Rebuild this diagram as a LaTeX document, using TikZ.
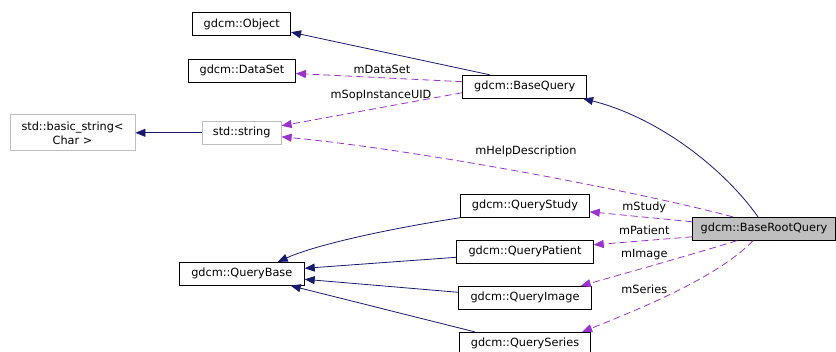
\documentclass[tikz,border=0pt]{standalone}
\usepackage{fontspec}
\setmainfont{DejaVu Sans}
\usetikzlibrary{arrows.meta}
\definecolor{navy}{HTML}{191970}
\definecolor{orchid}{HTML}{9A32CD}
\definecolor{extgray}{HTML}{BFBFBF}

\begin{document}
\begin{tikzpicture}[x=1pt,y=-1pt,
        every node/.append style={font=\fontsize{11.3}{14}\selectfont},
        cls/.style={draw=black,line width=0.8pt,minimum height=23pt,inner sep=0pt},
        ext/.style={cls,draw=extgray},
        inherit/.style={navy,line width=0.8pt,-{Triangle[length=10pt,width=8pt]}},
        member/.style={orchid,line width=0.8pt,dash pattern=on 7pt off 4pt,-{Triangle[length=10pt,width=8pt]}}]
        \useasboundingbox (0,0) rectangle (836,352);
        % classes
        \node[cls,minimum width=98pt] (obj) at (241.7,24.2) {gdcm::Object};
        \node[cls,minimum width=107pt] (ds) at (242,70.5) {gdcm::DataSet};
        \node[ext,minimum width=125pt,minimum height=36pt,align=center] (bs) at (72.5,132.8) {std::basic\_string<\\Char >};
        \node[ext,minimum width=79pt] (str) at (241.7,132.8) {std::string};
        \node[cls,minimum width=124pt] (bq) at (524.7,86.7) {gdcm::BaseQuery};
        \node[cls,minimum width=125pt] (qb) at (241.8,273.8) {gdcm::QueryBase};
        \node[cls,minimum width=128.6pt] (qst) at (525,205.8) {gdcm::QueryStudy};
        \node[cls,minimum width=136.6pt] (qp) at (525,251.8) {gdcm::QueryPatient};
        \node[cls,minimum width=132.6pt] (qi) at (525,297.8) {gdcm::QueryImage};
        \node[cls,minimum width=131.4pt] (qse) at (525,343.8) {gdcm::QuerySeries};
        \node[cls,fill=extgray,minimum width=142.6pt] (brq) at (764,228.8) {gdcm::BaseRootQuery};
        % inheritance
        \draw[inherit] ([xshift=-35pt]bq.north) -- ([yshift=-8pt]obj.east);
        \draw[inherit] (str.west) -- (bs.east);
        \draw[inherit] ([xshift=-6pt]brq.north) .. controls (725,170) and (660,118) .. ([xshift=-4pt]bq.south east);
        \draw[inherit] (qst.south west) .. controls (400,227) and (320,243) .. ([xshift=-27pt]qb.north east);
        \draw[inherit] ([yshift=-5.5pt]qp.west) -- ([yshift=5.5pt]qb.east);
        \draw[inherit] ([yshift=5.5pt]qi.west) -- ([yshift=-5.5pt]qb.east);
        \draw[inherit] ([xshift=16pt]qse.north west) -- ([xshift=-14pt]qb.south east);
        % members
        \draw[member] ([yshift=5pt]bq.west) -- ([yshift=-3pt]ds.east);
        \draw[member] ([yshift=-6pt]bq.west) -- ([yshift=7pt]str.east);
        \draw[member] ([xshift=-31pt]brq.north) .. controls (640,192) and (420,150) .. ([yshift=-4pt]str.east);
        \draw[member] ([yshift=7pt]brq.west) -- ([yshift=-6pt]qst.east);
        \draw[member] ([yshift=-8pt]brq.west) -- ([yshift=7pt]qp.east);
        \draw[member] ([xshift=-27pt]brq.south) .. controls (690,255) and (630,272) .. ([xshift=-11pt]qi.north east);
        \draw[member] ([xshift=-11pt]brq.south) .. controls (720,275) and (650,305) .. ([xshift=-9pt]qse.north east);
        % member names
        \node (lds) at (382,69) {mDataSet};
        \node (lsop) at (381,95) {mSopInstanceUID};
        \node (lhelp) at (526,151) {mHelpDescription};
        \node (lst) at (644.3,207.3) {mStudy};
        \node (lpat) at (644.3,230.7) {mPatient};
        \node (limg) at (644.3,254.3) {mImage};
        \node (lser) at (644.3,289) {mSeries};
    \end{tikzpicture}
\end{document}
